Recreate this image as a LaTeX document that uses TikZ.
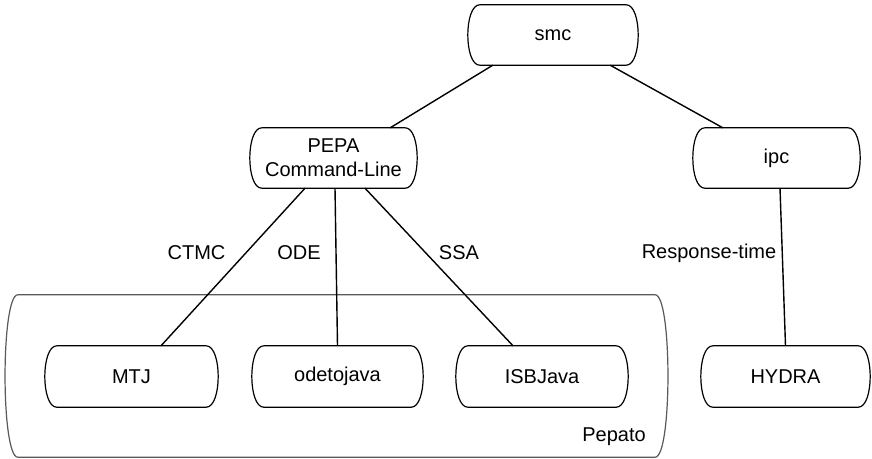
\documentclass[tikz,border=0pt]{standalone}
\usepackage{fontspec}
\setmainfont{Liberation Sans}
\newcommand\termshape[3][12pt]{%
  \draw[#3] ([xshift=#1]#2.north west) -- ([xshift=-#1]#2.north east)
    .. controls ([xshift=4pt]#2.north east) and ([xshift=4pt]#2.south east) .. ([xshift=-#1]#2.south east)
    -- ([xshift=#1]#2.south west)
    .. controls ([xshift=-4pt]#2.south west) and ([xshift=-4pt]#2.north west) .. cycle;}
\begin{document}
\begin{tikzpicture}[x=1pt,y=-1pt,
  box/.style={draw=none, inner sep=0pt, minimum height=60pt, align=center, font=\fontsize{20}{24}\selectfont},
  lbl/.style={inner sep=0pt, font=\fontsize{20}{24}\selectfont},
  outline/.style={line width=1.2pt, black},
  contline/.style={line width=1.2pt, black!65},
  conn/.style={line width=1.4pt, black}]
\useasboundingbox (0,0) rectangle (872,458);
% container
\node[draw=none, inner sep=0pt, minimum width=663pt, minimum height=162pt] (pepato) at (336.5,376) {};
\termshape[13pt]{pepato}{contline}
\node[lbl] (pepatolbl) at (614,437) {Pepato};
% nodes
\node[box, minimum width=170pt] (smc) at (553,35) {smc};
\node[box, minimum width=167pt] (pepa) at (333.5,158) {PEPA\\Command-Line};
\node[box, minimum width=167pt] (ipc) at (776.5,158) {ipc};
\node[box, minimum width=173pt, minimum height=61pt] (mtj) at (131.5,376.5) {MTJ};
\node[box, minimum width=171pt, minimum height=61pt] (ode) at (337.5,376.5) {odetojava};
\node[box, minimum width=172pt, minimum height=61pt] (isb) at (542,376.5) {ISBJava};
\node[box, minimum width=169pt, minimum height=61pt] (hydra) at (785.5,376.5) {HYDRA};
\foreach \n in {smc,pepa,ipc,mtj,ode,isb,hydra}{\termshape{\n}{outline}}
% connectors
\draw[conn] ([xshift=25pt]smc.south west) -- ([xshift=-27pt]pepa.north east);
\draw[conn] ([xshift=-28pt]smc.south east) -- ([xshift=30pt]ipc.north west);
\draw[conn] ([xshift=-28.5pt]pepa.south) -- ([xshift=29.5pt]mtj.north);
\draw[conn] ([xshift=1.5pt]pepa.south) -- (ode.north);
\draw[conn] ([xshift=31.5pt]pepa.south) -- ([xshift=-29pt]isb.north);
\draw[conn] ([xshift=3.5pt]ipc.south) -- (hydra.north);
% labels
\node[lbl] (ctmc) at (196.5,253) {CTMC};
\node[lbl] (odel) at (299,253) {ODE};
\node[lbl] (ssa) at (459,253) {SSA};
\node[lbl] (resp) at (709,253) {Response-time};
\end{tikzpicture}
\end{document}
